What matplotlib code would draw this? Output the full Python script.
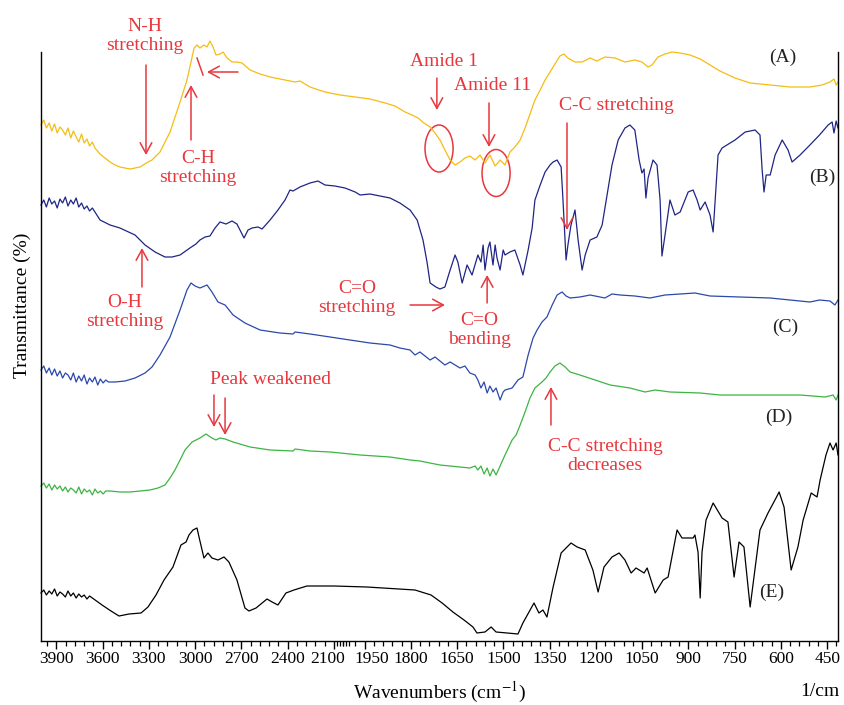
import numpy as np
import matplotlib
matplotlib.use("Agg")
import matplotlib.pyplot as plt
from matplotlib.patches import Ellipse
from matplotlib.ticker import FixedLocator, NullFormatter
from matplotlib.transforms import blended_transform_factory, ScaledTranslation

plt.rcParams['font.family'] = ['Liberation Serif', 'DejaVu Serif']
plt.rcParams['mathtext.fontset'] = 'stix'

# ---------------- data (wavenumber cm-1, transmittance a.u. with stacking offset) -------------
wn_A = [4000, 3982, 3965, 3947, 3930, 3912, 3895, 3877, 3860, 3842, 3825, 3807, 3790, 3772, 3755,
        3737, 3720, 3702, 3685, 3667, 3650,
        3617, 3585, 3552, 3520, 3488, 3423, 3358, 3306, 3280, 3228, 3163, 3098, 3053, 3027,
        3007, 2988, 2969, 2943, 2923, 2904, 2884, 2865, 2839, 2819, 2793, 2761, 2729, 2696, 2644,
        2579, 2514, 2417, 2352, 2320, 2255, 2158, 2060, 1981, 1933, 1884, 1852, 1819, 1797, 1777,
        1758, 1738, 1722, 1706, 1690, 1673, 1657, 1641, 1625, 1609, 1592, 1576, 1560, 1544, 1527,
        1511, 1495, 1479, 1463, 1446, 1430, 1414, 1398, 1381, 1365, 1349, 1333, 1317, 1304, 1291,
        1268, 1245, 1219, 1197, 1171, 1138, 1106, 1074, 1051, 1031, 1018, 999, 976, 953, 927,
        895, 862, 830, 798, 749, 700, 635, 571, 506, 467, 441, 428, 421, 415]
T_A = [516, 521, 513, 518, 510, 517, 508, 514, 511, 506, 513, 503, 510, 504, 499,
       507, 498, 502, 495, 499, 493,
       487, 483, 479, 476, 474, 472, 474, 479, 481, 489, 509, 539, 561, 579,
       593, 596, 593, 596, 594, 600, 594, 586, 587, 589, 583, 579, 579, 578, 571,
       567, 564, 561, 559, 560, 554, 549, 546, 544, 542, 538, 535, 529, 526, 523,
       518, 514, 508, 501, 491, 481, 476, 479, 483, 485, 481, 486, 478, 486, 475,
       481, 476, 489, 494, 501, 513, 527, 541, 551, 561, 569, 577, 585, 587, 583,
       579, 579, 583, 580, 584, 583, 579, 581, 579, 574, 576, 584, 587, 589, 588,
       586, 582, 576, 570, 563, 558, 556, 554, 554, 556, 559, 562, 556, 559]

wn_B = [4000, 3982, 3965, 3947, 3930, 3912, 3895, 3877, 3860, 3842, 3825, 3807, 3790, 3772, 3755,
        3737, 3720, 3702, 3685, 3667, 3650,
        3617, 3552, 3488, 3390, 3325, 3260, 3196, 3150, 3098, 3034, 2995, 2969, 2936, 2904, 2871,
        2839, 2800, 2761, 2729, 2709, 2683, 2657, 2631, 2592, 2566, 2514, 2463, 2417, 2385, 2365,
        2320, 2255, 2203, 2158, 2094, 2028, 1981, 1965, 1933, 1900, 1868, 1836, 1803, 1780, 1761,
        1748, 1738, 1719, 1706, 1690, 1673, 1657, 1648, 1634, 1618, 1602, 1583, 1573, 1566, 1560,
        1550, 1544, 1534, 1527, 1521, 1511, 1501, 1495, 1479, 1463, 1446, 1437, 1420, 1407, 1398,
        1381, 1365, 1349, 1339, 1326, 1313, 1307, 1297, 1291, 1281, 1268, 1258, 1245, 1235, 1219,
        1197, 1180, 1164, 1148, 1128, 1106, 1090, 1074, 1060, 1051, 1044, 1038, 1031, 1015, 1002,
        992, 986, 976, 960, 944, 927, 901, 885, 872, 862, 846, 830, 820, 804, 791,
        749, 716, 684, 668, 661, 655, 648, 635, 619, 596, 577, 564, 538, 506, 475,
        447, 434, 428, 421, 415]
T_B = [436, 441, 434, 443, 437, 440, 433, 442, 438, 444, 435, 441, 437, 443, 434,
       438, 432, 435, 430, 433, 429,
       421, 416, 413, 406, 396, 389, 384, 384, 386, 393, 397, 401, 404, 405, 413,
       419, 417, 420, 417, 411, 403, 411, 413, 414, 412, 421, 431, 441, 451, 450,
       454, 458, 460, 456, 455, 453, 449, 446, 447, 445, 443, 438, 431, 421, 401,
       379, 358, 354, 352, 354, 371, 386, 379, 358, 376, 366, 386, 379, 396, 371,
       393, 399, 376, 396, 383, 371, 391, 386, 389, 391, 376, 366, 391, 413, 441,
       456, 469, 476, 479, 481, 474, 441, 381, 396, 416, 431, 401, 371, 386, 401,
       404, 416, 446, 476, 501, 513, 516, 511, 481, 468, 472, 443, 463, 481, 476,
       441, 385, 406, 441, 426, 429, 449, 451, 441, 431, 439, 426, 409, 486, 493,
       501, 509, 511, 506, 471, 449, 466, 466, 486, 501, 491, 479, 486, 496, 506,
       516, 519, 508, 520, 513]

wn_C = [4000, 3982, 3965, 3947, 3930, 3912, 3895, 3877, 3860, 3842, 3825, 3807, 3790, 3772, 3755,
        3737, 3720, 3702, 3685, 3667, 3650, 3632, 3615, 3597, 3580, 3562,
        3520, 3455, 3390, 3325, 3280, 3228, 3163, 3098, 3053, 3027, 3001, 2969,
        2923, 2891, 2852, 2806, 2754, 2677, 2579, 2450, 2365, 2352, 2255, 2125, 1998, 1933, 1868,
        1836, 1803, 1787, 1771, 1738, 1722, 1690, 1673, 1641, 1625, 1609, 1592, 1583, 1573, 1563,
        1553, 1544, 1534, 1524, 1511, 1501, 1495, 1472, 1453, 1437, 1420, 1404, 1391, 1375, 1359,
        1342, 1326, 1310, 1297, 1284, 1252, 1219, 1171, 1148, 1122, 1074, 1025, 976, 927, 879,
        830, 733, 635, 571, 506, 475, 441, 425, 415]
T_C = [271, 275, 268, 273, 266, 272, 265, 270, 263, 268, 266, 261, 268, 259, 265,
       260, 266, 257, 263, 259, 264, 256, 262, 258, 261, 259,
       259, 260, 263, 268, 274, 286, 304, 331, 351, 358, 355, 353,
       356, 349, 339, 336, 326, 318, 311, 308, 307, 309, 307, 304, 301, 298, 296,
       293, 291, 286, 289, 281, 284, 276, 279, 273, 275, 268, 266, 261, 253, 259,
       248, 255, 249, 253, 241, 249, 251, 253, 261, 264, 286, 303, 311, 319, 324,
       336, 346, 349, 345, 343, 344, 346, 343, 347, 346, 345, 343, 346, 347, 348,
       345, 344, 343, 341, 339, 341, 340, 336, 341]

wn_D = [4000, 3982, 3965, 3947, 3930, 3912, 3895, 3877, 3860, 3842, 3825, 3807, 3790, 3772, 3755,
        3737, 3720, 3702, 3685, 3667, 3650, 3632, 3615, 3597, 3580,
        3552, 3488, 3423, 3358, 3293, 3241, 3196, 3163, 3131, 3098, 3066, 3020, 2969,
        2930, 2891, 2865, 2839, 2806, 2754, 2644, 2514, 2365, 2352, 2255, 2125, 1965, 1868, 1803,
        1771, 1706, 1641, 1609, 1592, 1583, 1573, 1563, 1553, 1544, 1534, 1524, 1511, 1495, 1472,
        1459, 1446, 1430, 1414, 1398, 1375, 1362, 1349, 1333, 1317, 1300, 1284, 1252, 1203, 1154,
        1090, 1041, 1008, 960, 862, 798, 668, 538, 457, 431, 421, 415]
T_D = [155, 158, 153, 157, 151, 156, 152, 155, 150, 154, 149, 153, 151, 148, 154,
       147, 152, 149, 151, 146, 152, 148, 150, 147, 150,
       150, 149, 149, 150, 151, 153, 156, 163, 171, 181, 191, 199, 203,
       207, 203, 201, 203, 202, 199, 194, 191, 190, 192, 190, 189, 186, 184, 181,
       180, 176, 174, 173, 175, 171, 175, 167, 173, 165, 172, 166, 175, 186, 201,
       206, 216, 229, 243, 253, 259, 263, 269, 275, 278, 274, 269, 266, 261, 256,
       253, 249, 251, 249, 248, 246, 246, 246, 244, 246, 241, 246]

wn_E = [4000, 3982, 3965, 3947, 3930, 3912, 3895, 3877, 3860, 3842, 3825, 3807, 3790, 3772, 3755,
        3737, 3720, 3702, 3685, 3667,
        3604, 3546, 3494,
        3429, 3351, 3306, 3254, 3202, 3144, 3092, 3059, 3040, 3014, 2988, 2975, 2943, 2917, 2891,
        2852, 2813, 2781, 2729, 2677, 2651, 2605, 2534, 2501, 2463, 2411, 2359, 2275, 2099, 1943,
        1839, 1787, 1735, 1699, 1664, 1628, 1599, 1586, 1560, 1540, 1524, 1488, 1453, 1437, 1401,
        1385, 1372, 1359, 1339, 1313, 1297, 1281, 1261, 1235, 1210, 1193, 1174, 1148, 1125, 1106,
        1086, 1070, 1044, 1034, 1008, 982, 966, 937, 921, 885, 879, 869, 862, 856, 843,
        820, 791, 772, 752, 736, 720, 700, 668, 642, 616, 606, 590, 567, 545, 528,
        502, 483, 473, 454, 441, 431, 421, 415]
T_E = [48, 51, 46, 50, 47, 52, 45, 49, 47, 44, 50, 45, 48, 43, 47,
       44, 46, 42, 45, 43,
       36, 30, 25,
       27, 28, 34, 46, 61, 74, 96, 99, 106, 111, 113, 104, 83, 88, 83,
       81, 84, 79, 61, 33, 30, 33, 42, 39, 36, 48, 51, 55, 55, 54,
       52, 51, 46, 38, 29, 21, 14, 8, 9, 14, 9, 8, 7, 18, 38,
       28, 31, 24, 54, 88, 93, 98, 94, 91, 71, 49, 74, 84, 88, 81,
       68, 73, 68, 73, 48, 61, 64, 111, 103, 103, 106, 89, 43, 89, 121,
       138, 123, 119, 64, 99, 94, 34, 111, 128, 143, 149, 134, 71, 94, 121,
       148, 144, 161, 186, 198, 191, 198, 186]

series_names = ["(A)", "(B)", "(C)", "(D)", "(E)"]
series_wn = [wn_A, wn_B, wn_C, wn_D, wn_E]
series_T = [T_A, T_B, T_C, T_D, T_E]
series_colors = ["#F5BC14", "#1F2585", "#2B48AC", "#3DB443", "#000000"]
label_pos = [(593, 584), (467, 464), (587, 314), (606, 224), (629, 49)]

major_ticks = [3900, 3600, 3300, 3000, 2700, 2400, 2100, 1950, 1800, 1650, 1500, 1350, 1200,
               1050, 900, 750, 600, 450]
major_labels = [str(v) for v in major_ticks]
label_shift_px = {2100: -6, 1950: 7}

RED = "#E8373D"

# ---------------- figure -------------
fig = plt.figure(figsize=(8.45, 7.05), dpi=100)
ax = fig.add_axes([41 / 845, 64 / 705, 797 / 845, 641 / 705])


def fwd(x):
    x = np.asarray(x, dtype=float)
    return np.where(x > 2000, 2000 + (x - 2000) / 2.0, x)


def inv(u):
    u = np.asarray(u, dtype=float)
    return np.where(u > 2000, 2000 + 2.0 * (u - 2000), u)


ax.set_xscale('function', functions=(fwd, inv))
ax.set_xlim(4000, 415)
ax.set_ylim(0, 641)

for wn, T, c, name, (lx, ly) in zip(series_wn, series_T, series_colors, series_names, label_pos):
    ax.plot(wn, T, color=c, lw=0.9, clip_on=False, solid_joinstyle='round')
    ax.text(lx, ly, name, ha='center', va='center', fontsize=14, color='#222222')

# spines
ax.spines['top'].set_visible(False)
for s in ['left', 'right']:
    ax.spines[s].set_bounds(0, 589)
for s in ['left', 'right', 'bottom']:
    ax.spines[s].set_linewidth(1.0)
ax.set_yticks([])

# x ticks
minor = [v for v in range(3960, 2000, -60) if v % 300 != 0]
minor += [2080, 2060, 2040, 2020, 2000]
minor += [v for v in range(1980, 415, -30) if v % 150 != 0]
ax.xaxis.set_major_locator(FixedLocator(major_ticks))
ax.xaxis.set_minor_locator(FixedLocator(minor))
ax.xaxis.set_major_formatter(NullFormatter())
ax.xaxis.set_minor_formatter(NullFormatter())
ax.tick_params(axis='x', which='major', direction='out', length=6, width=1.0)
ax.tick_params(axis='x', which='minor', direction='out', length=3.5, width=0.9)

btrans = blended_transform_factory(ax.transData, ax.transAxes)
for v, lab in zip(major_ticks, major_labels):
    dx = label_shift_px.get(v, 0) / 100.0
    tr = btrans + ScaledTranslation(dx, -0.1, fig.dpi_scale_trans)
    ax.text(v, 0, lab, transform=tr, ha='center', va='top', fontsize=12.5)

ax.set_xlabel("Wavenumbers (cm$^{-1}$)", fontsize=14)
ax.xaxis.set_label_coords(0.5, -(692 - 641) / 641)
ax.xaxis.label.set_va('center')
fig.text(820 / 845, 1 - 692 / 705, "1/cm", ha='center', va='center', fontsize=14)
ax.set_ylabel("Transmittance (%)", fontsize=14)
ax.yaxis.set_label_coords(-0.012, 0.523)


# ---------------- annotations -------------
def arrow(x0, y0, x1, y1):
    ax.annotate('', xy=(x1, y1), xytext=(x0, y0), annotation_clip=False,
                arrowprops=dict(arrowstyle='->,head_length=0.55,head_width=0.3', color=RED,
                                lw=1.1, shrinkA=0, shrinkB=0, mutation_scale=14))


def rtext(x, y, s):
    ax.text(x, y, s, ha='center', va='center', color=RED, fontsize=14, linespacing=1.1)


rtext(3325, 605, "N-H\nstretching")
arrow(3319, 576, 3319, 486)
rtext(2982, 473, "C-H\nstretching")
arrow(3027, 501, 3027, 556)
ax.plot([2988, 2949], [583, 566], color=RED, lw=1.1, clip_on=False)
arrow(2722, 569, 2923, 569)

rtext(1693, 579, "Amide 1")
arrow(1716, 563, 1716, 531)
ax.add_patch(Ellipse((1709, 492.5), 91, 47, fill=False, edgecolor=RED, lw=1.1, clip_on=False))
rtext(1537, 555, "Amide 11")
arrow(1547, 538, 1547, 494)
ax.add_patch(Ellipse((1524, 468), 91, 47, fill=False, edgecolor=RED, lw=1.1, clip_on=False))
rtext(1135, 535, "C-C stretching")
arrow(1294, 518, 1294, 411)

rtext(3455, 329, "O-H\nstretching")
arrow(3345, 354, 3345, 393)
rtext(1975, 343, "C=O\nstretching")
arrow(1803, 336, 1690, 336)
rtext(1579, 311, "C=O\nbending")
arrow(1553, 338, 1553, 366)

rtext(2514, 261, "Peak weakened")
arrow(2878, 246, 2878, 214)
arrow(2806, 243, 2806, 206)
rtext(1171, 185, "C-C stretching\ndecreases")
arrow(1346, 216, 1346, 254)

fig.savefig("out.png", dpi=100)
